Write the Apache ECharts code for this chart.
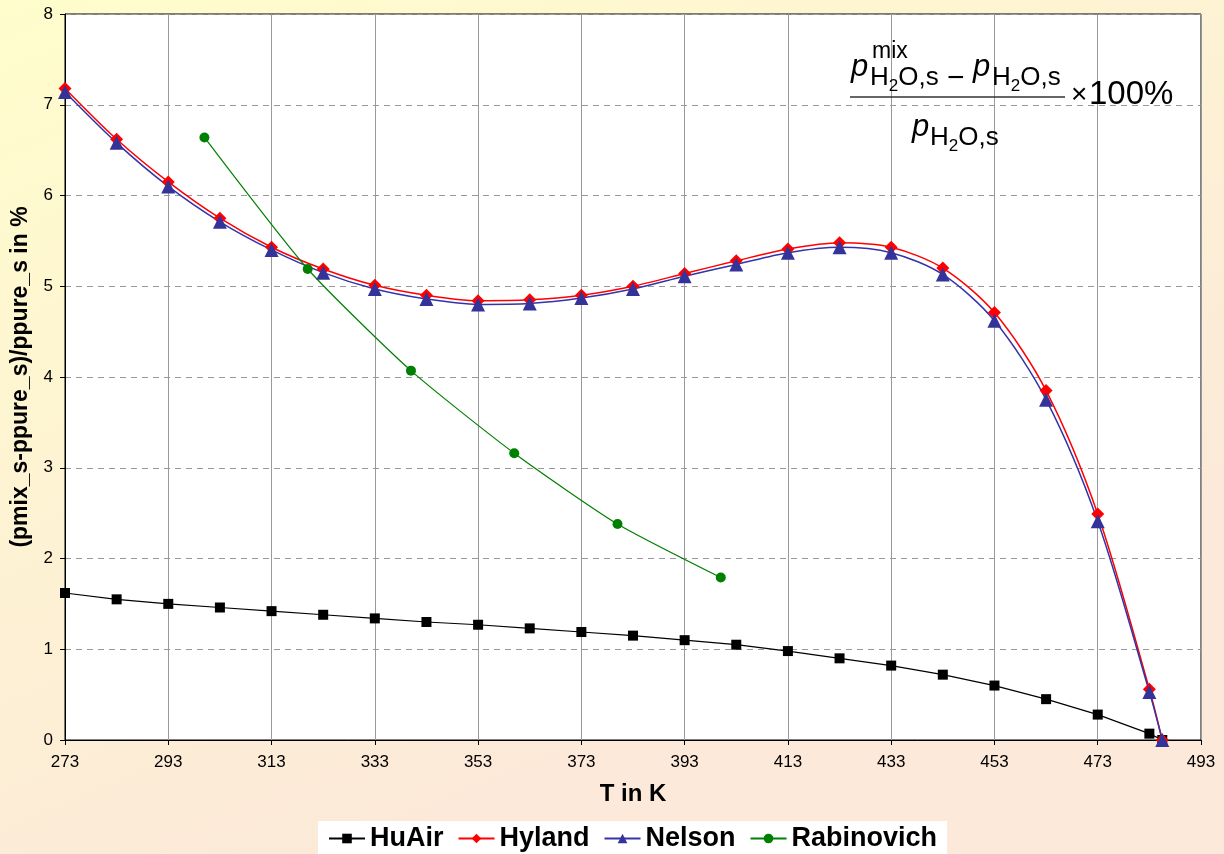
<!DOCTYPE html>
<html lang="en">
<head>
    <meta charset="UTF-8">
    <title>pmix vs ppure</title>
    <style>
        html, body { margin: 0; padding: 0; }
    </style>
</head>
<body>

<div id="main" style="width: 1224px;height:854px;"></div>

<script src="https://cdn.jsdelivr.net/npm/echarts@6/dist/echarts.min.js" charset="utf-8"></script>

<script type="text/javascript">
    // temperatures in K
    var tempMain = [273, 283, 293, 303, 313, 323, 333, 343, 353, 363, 373, 383, 393, 403, 413, 423, 433, 443, 453, 463, 473, 483, 485.5];
    var tempRabinovich = [300, 320, 340, 360, 380, 400];

    // deviation in %
    var huAir = [1.62, 1.55, 1.50, 1.46, 1.42, 1.38, 1.34, 1.30, 1.27, 1.23, 1.19, 1.15, 1.10, 1.05, 0.98, 0.90, 0.82, 0.72, 0.60, 0.45, 0.28, 0.07, 0];
    var hyland = [7.18, 6.62, 6.15, 5.75, 5.43, 5.19, 5.01, 4.90, 4.84, 4.85, 4.90, 5.00, 5.14, 5.28, 5.41, 5.48, 5.43, 5.20, 4.71, 3.85, 2.49, 0.56, 0];
    var nelson = [7.14, 6.58, 6.10, 5.71, 5.40, 5.15, 4.97, 4.86, 4.80, 4.81, 4.87, 4.97, 5.11, 5.24, 5.37, 5.43, 5.37, 5.13, 4.62, 3.75, 2.41, 0.53, 0];
    var rabinovich = [6.64, 5.19, 4.07, 3.16, 2.38, 1.79];

    function pairs(xs, ys) {
        var out = [];
        for (var i = 0; i < xs.length; i++) {
            out.push([xs[i], ys[i]]);
        }
        return out;
    }

    var FONT = "'Liberation Sans', Arial, sans-serif";

    // subscript H2O,s as rich text, the 2 dropped a bit lower
    function subText(x, y) {
        return {
            type: 'text',
            z: 100,
            style: {
                x: x,
                y: y,
                text: '{h|H}{n|2}{h|O,s}{e| }',
                textVerticalAlign: 'middle',
                rich: {
                    h: { fontFamily: FONT, fontSize: 26, lineHeight: 26, fill: '#000', verticalAlign: 'top' },
                    n: { fontFamily: FONT, fontSize: 17, lineHeight: 17, fill: '#000', verticalAlign: 'bottom' },
                    e: { fontFamily: FONT, fontSize: 4, lineHeight: 30, fill: '#000' }
                }
            }
        };
    }

    function italicP(x, y) {
        return {
            type: 'text',
            z: 100,
            style: { x: x, y: y, text: 'p', font: 'italic 31px ' + FONT, fill: '#000', textVerticalAlign: 'middle' }
        };
    }

    var myChart = echarts.init(document.getElementById('main'));

    var option = {
        animation: false,
        backgroundColor: {
            type: 'linear', x: 0, y: 0, x2: 0.3, y2: 1,
            colorStops: [
                { offset: 0, color: '#FFFDCC' },
                { offset: 1, color: '#FCE9D9' }
            ]
        },
        grid: {
            left: 65,
            right: 23,
            top: 14,
            bottom: 114,
            show: true,
            backgroundColor: '#ffffff',
            borderColor: '#000',
            borderWidth: 1
        },
        legend: {
            bottom: -8,
            left: 318,
            backgroundColor: '#ffffff',
            padding: [4, 10, 10, 10],
            itemWidth: 36,
            itemHeight: 12,
            itemGap: 14,
            textStyle: { fontFamily: FONT, fontWeight: 'bold', fontSize: 27, color: '#000' },
            data: ['HuAir', 'Hyland', 'Nelson', 'Rabinovich']
        },
        xAxis: {
            type: 'value',
            min: 273,
            max: 493,
            interval: 20,
            name: 'T in K',
            nameLocation: 'middle',
            nameGap: 42,
            nameTextStyle: { fontFamily: FONT, fontWeight: 'bold', fontSize: 24, color: '#000' },
            axisLine: { lineStyle: { color: '#000', width: 1 } },
            axisTick: { show: true, length: 5, lineStyle: { color: '#000' } },
            axisLabel: { fontFamily: FONT, fontSize: 17, color: '#000', margin: 14 },
            splitLine: { show: true, lineStyle: { color: '#999', width: 1, type: 'solid' } }
        },
        yAxis: {
            type: 'value',
            min: 0,
            max: 8,
            interval: 1,
            name: '(pmix_s-ppure_s)/ppure_s in %',
            nameLocation: 'middle',
            nameGap: 33,
            nameTextStyle: { fontFamily: FONT, fontWeight: 'bold', fontSize: 23, color: '#000' },
            axisLine: { show: true, lineStyle: { color: '#000', width: 1 } },
            axisTick: { show: true, length: 5, lineStyle: { color: '#000' } },
            axisLabel: { fontFamily: FONT, fontSize: 17, color: '#000', margin: 12 },
            splitLine: { show: true, lineStyle: { color: '#999', width: 1, type: [6, 5] } }
        },
        series: [
            {
                name: 'HuAir',
                type: 'line',
                data: pairs(tempMain, huAir),
                symbol: 'rect',
                symbolSize: 10,
                color: '#000000',
                lineStyle: { width: 1.2, color: '#000' },
                itemStyle: { color: '#000' }
            },
            {
                name: 'Hyland',
                type: 'line',
                smooth: 0.3,
                data: pairs(tempMain, hyland),
                symbol: 'diamond',
                symbolSize: 13,
                color: '#FF0000',
                lineStyle: { width: 1.5, color: '#FF0000' },
                itemStyle: { color: '#FF0000' }
            },
            {
                name: 'Nelson',
                type: 'line',
                smooth: 0.3,
                data: pairs(tempMain, nelson),
                symbol: 'triangle',
                symbolSize: 14,
                color: '#333399',
                lineStyle: { width: 1.5, color: '#3333AA' },
                itemStyle: { color: '#333399' }
            },
            {
                name: 'Rabinovich',
                type: 'line',
                smooth: 0.2,
                data: pairs(tempRabinovich, rabinovich),
                symbol: 'circle',
                symbolSize: 10,
                color: '#008000',
                lineStyle: { width: 1.2, color: '#008000' },
                itemStyle: { color: '#008000' }
            }
        ],
        graphic: [
            italicP(851, 67),
            {
                type: 'text', z: 100,
                style: { x: 872, y: 52, text: 'mix', font: '23px ' + FONT, fill: '#000', textVerticalAlign: 'middle' }
            },
            subText(870, 80),
            {
                type: 'text', z: 100,
                style: { x: 947, y: 79, text: '\u2212', font: '30px ' + FONT, fill: '#000', textVerticalAlign: 'middle' }
            },
            italicP(973, 67),
            subText(992, 80),
            {
                type: 'line', z: 100,
                shape: { x1: 850, y1: 97, x2: 1065, y2: 97 },
                style: { stroke: '#333', lineWidth: 1.5 }
            },
            {
                type: 'text', z: 100,
                style: { x: 1071, y: 95, text: '\u00d7', font: '28px ' + FONT, fill: '#000', textVerticalAlign: 'middle' }
            },
            {
                type: 'text', z: 100,
                style: { x: 1089, y: 95, text: '100%', font: '33px ' + FONT, fill: '#000', textVerticalAlign: 'middle' }
            },
            italicP(912, 127),
            subText(930, 140)
        ]
    };

    myChart.setOption(option);
</script>
</body>
</html>
